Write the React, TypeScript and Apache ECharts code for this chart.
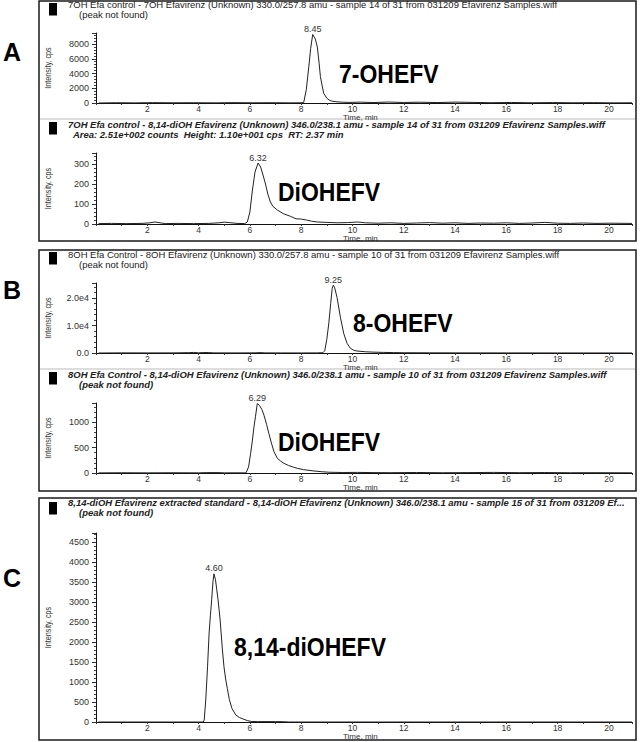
import React, { useEffect, useRef } from 'react';
import * as echarts from 'echarts';

// ---- Data (time in min, intensity in cps) ----
const traceA1: [number, number][] = [
  [0.1, 0], [0.8, 40], [1.5, 20], [2.2, 50], [3.0, 30], [3.8, 40], [4.6, 20], [5.3, 50], [6.1, 30],
  [6.9, 40], [7.6, 20], [8.0, 30], [8.1, 80], [8.2, 1800], [8.3, 5000], [8.37, 7400], [8.45, 9300],
  [8.55, 8700], [8.63, 7600], [8.7, 5400], [8.75, 3600], [8.82, 2300], [8.88, 1300], [9.0, 650],
  [9.1, 380], [9.2, 250], [9.4, 160], [9.6, 110], [9.9, 80], [10.3, 120], [10.8, 60], [11.4, 130],
  [12.0, 70], [12.6, 110], [13.3, 60], [14.0, 120], [14.7, 80], [15.4, 40], [16.2, 70], [17.0, 30],
  [17.8, 60], [18.6, 30], [19.4, 50], [20.2, 20], [20.9, 30],
];
const traceA2: [number, number][] = [
  [0.1, 2], [0.6, 3], [1.2, 2], [1.8, 3], [2.1, 6], [2.3, 10], [2.5, 6], [2.7, 2], [3.2, 3], [3.8, 2],
  [4.4, 3], [4.8, 6], [5.0, 9], [5.2, 7], [5.5, 3], [5.8, 2], [5.9, 10], [6.0, 60], [6.1, 170],
  [6.2, 260], [6.32, 305], [6.42, 285], [6.5, 250], [6.6, 205], [6.7, 150], [6.8, 110], [6.9, 88],
  [7.07, 70], [7.3, 52], [7.59, 38], [7.8, 26], [7.98, 25], [8.2, 20], [8.4, 14], [8.63, 10], [9.0, 8],
  [9.4, 6], [9.8, 7], [10.2, 10], [10.5, 6], [11.0, 4], [11.5, 6], [12.0, 3], [12.5, 5], [13.0, 7],
  [13.5, 4], [14.0, 6], [14.5, 3], [15.0, 5], [15.5, 4], [16.0, 6], [16.5, 3], [17.0, 5], [17.5, 8],
  [18.0, 4], [18.5, 3], [19.0, 5], [19.5, 3], [20.0, 4], [20.9, 3],
];
const traceB1: [number, number][] = [
  [0.1, 0], [1, 50], [2, 30], [3, 40], [3.6, 120], [3.8, 200], [4.0, 60], [4.2, 180], [4.4, 150],
  [4.6, 40], [5.5, 30], [6.2, 60], [6.4, 150], [6.6, 40], [7.2, 30], [8.0, 20], [8.6, 40], [8.85, 100],
  [8.92, 800], [9.0, 5000], [9.08, 11000], [9.15, 18000], [9.21, 23500], [9.25, 24700], [9.3, 24000],
  [9.4, 20200], [9.53, 13000], [9.66, 7100], [9.79, 3500], [9.92, 1700], [10.05, 1000], [10.18, 720],
  [10.5, 450], [10.8, 320], [11.2, 220], [11.6, 150], [12, 100], [13, 70], [14, 50], [15, 40],
  [16, 30], [17, 30], [18, 20], [19, 20], [20, 20], [20.9, 10],
];
const traceB2: [number, number][] = [
  [0.1, 2], [1, 5], [2, 3], [3, 5], [4, 3], [4.3, 8], [4.8, 8], [5, 3], [5.5, 4], [5.85, 2],
  [5.95, 120], [6.03, 390], [6.1, 650], [6.16, 910], [6.22, 1120], [6.29, 1370], [6.38, 1330],
  [6.47, 1250], [6.55, 1140], [6.65, 960], [6.74, 780], [6.84, 590], [6.94, 420], [7.07, 290],
  [7.2, 235], [7.33, 190], [7.5, 150], [7.7, 115], [7.85, 92], [8.1, 65], [8.5, 40], [8.8, 25],
  [9.1, 15], [9.6, 10], [10.2, 12], [10.8, 8], [11.5, 6], [12.5, 10], [13.5, 5], [14.5, 8],
  [15.5, 12], [16.5, 6], [17.5, 9], [18.5, 5], [19.5, 6], [20.9, 4],
];
const traceC: [number, number][] = [
  [0.1, 0], [2, 0], [4.0, 0], [4.18, 0], [4.22, 50], [4.28, 550], [4.35, 1380], [4.41, 2220],
  [4.46, 2650], [4.51, 3050], [4.56, 3500], [4.6, 3700], [4.66, 3550], [4.71, 3300], [4.76, 3050],
  [4.84, 2550], [4.93, 1800], [4.99, 1380], [5.06, 1050], [5.12, 840], [5.2, 560], [5.3, 340],
  [5.45, 175], [5.6, 110], [5.77, 67], [5.9, 35], [6.05, 15], [6.3, 10], [7.0, 10], [7.3, 8],
  [7.5, 0], [20.9, 0],
];

const peakTimes = [8.45, 6.32, 9.25, 6.29, 4.6];
const peakValues = [9300, 305, 24700, 1370, 3700];
const peakLabels = ['8.45', '6.32', '9.25', '6.29', '4.60'];

const yMax = [9500, 355, 25500, 1380, 4720];
const yInterval = [2000, 100, 10000, 500, 500];

const titleLines = [
  ['7OH Efa control - 7OH Efavirenz (Unknown) 330.0/257.8 amu - sample 14 of 31 from 031209 Efavirenz Samples.wiff', '(peak not found)'],
  ['7OH Efa control - 8,14-diOH Efavirenz (Unknown) 346.0/238.1 amu - sample 14 of 31 from 031209 Efavirenz Samples.wiff', 'Area: 2.51e+002 counts  Height: 1.10e+001 cps  RT: 2.37 min'],
  ['8OH Efa Control - 8OH Efavirenz (Unknown) 330.0/257.8 amu - sample 10 of 31 from 031209 Efavirenz Samples.wiff', '(peak not found)'],
  ['8OH Efa Control - 8,14-diOH Efavirenz (Unknown) 346.0/238.1 amu - sample 10 of 31 from 031209 Efavirenz Samples.wiff', '(peak not found)'],
  ['8,14-diOH Efavirenz extracted standard - 8,14-diOH Efavirenz (Unknown) 346.0/238.1 amu - sample 15 of 31 from 031209 Ef...', '(peak not found)'],
];
const compoundLabels = ['7-OHEFV', 'DiOHEFV', '8-OHEFV', 'DiOHEFV', '8,14-diOHEFV'];
const panelLetters = ['A', 'B', 'C'];

// ---- Layout ----
const GRID_LEFT = 96;
const GRID_WIDTH = 536;
const gridTops = [33, 153, 283, 403, 533];
const gridHeights = [70, 71, 70, 70, 189];
const titleY = [[5, 14.8], [124.8, 134.6], [255, 264.8], [374.8, 384.6], [503.5, 513.3]];
const titleX2 = [79, 73, 79, 79, 79];
const titleBold = [false, true, false, true, true];
const squareY = [3, 122, 252, 372, 502];
const bigLabelPos = [[339, 74], [278, 192], [353, 323], [278, 442], [234, 647]];
const letterPos = [[12, 52], [12, 290], [12, 578]];
const boxes = [[39, 1, 597, 240], [39, 250, 597, 241], [39, 498, 597, 242]];
const sepY = [119, 369];

const FONT = '"Liberation Sans", Arial, sans-serif';
const traces = [traceA1, traceA2, traceB1, traceB2, traceC];

function fmtY(i: number, v: number): string {
  const iv = yInterval[i];
  if (Math.abs(v % iv) > 1e-6) return '';
  if (i === 2) return v === 0 ? '0.0' : (v / 1e4).toFixed(1) + 'e4';
  return String(v);
}

function buildOption(): any {
  const grid = gridTops.map((t, i) => ({
    left: GRID_LEFT, top: t, width: GRID_WIDTH, height: gridHeights[i],
    containLabel: false, outerBoundsMode: 'none',
  }));
  const xAxis = gridTops.map((_, i) => ({
    type: 'value', gridIndex: i, min: 0, max: 20.9, interval: 1,
    axisLine: { show: true, onZero: false, lineStyle: { color: '#111', width: 1 } },
    axisTick: { show: true, length: 2, lineStyle: { color: '#333' } },
    splitLine: { show: false },
    axisLabel: {
      fontSize: 8.5, fontFamily: FONT, color: '#333', margin: 1,
      formatter: (v: number) => (v > 0 && Math.abs(v % 2) < 1e-6 ? String(v) : ''),
    },
  }));
  const yAxis = gridTops.map((_, i) => ({
    type: 'value', gridIndex: i, min: 0, max: yMax[i], interval: yInterval[i],
    axisLine: { show: true, lineStyle: { color: '#111', width: 1 } },
    axisTick: { show: true, length: 4, lineStyle: { color: '#333' } },
    minorTick: { show: true, splitNumber: 5, length: 2, lineStyle: { color: '#444' } },
    splitLine: { show: false },
    axisLabel: {
      fontSize: 9, fontFamily: FONT, color: '#333', margin: 7,
      formatter: (v: number) => fmtY(i, v),
    },
  }));
  const series = traces.map((d, i) => ({
    type: 'line', xAxisIndex: i, yAxisIndex: i, data: d,
    showSymbol: false, symbol: 'none',
    lineStyle: { color: '#222', width: 1 },
    markPoint: {
      symbol: 'circle', symbolSize: 0, silent: true,
      itemStyle: { color: 'transparent' },
      label: {
        show: true, position: 'top', distance: 1, fontSize: 9, fontFamily: FONT, color: '#333',
        formatter: peakLabels[i],
      },
      data: [{ coord: [peakTimes[i], peakValues[i]] }],
    },
  }));

  const graphic: any[] = [];
  boxes.forEach(([x, y, w, h]) => {
    graphic.push({ type: 'rect', shape: { x, y, width: w, height: h }, style: { fill: 'none', stroke: '#1a1a1a', lineWidth: 1.5 }, z: 10 });
  });
  sepY.forEach((y) => {
    graphic.push({ type: 'line', shape: { x1: 40, y1: y, x2: 635, y2: y }, style: { stroke: '#bbb', lineWidth: 1 } });
  });
  squareY.forEach((y) => {
    graphic.push({ type: 'rect', shape: { x: 49, y, width: 8, height: 12.5 }, style: { fill: '#000' } });
  });
  titleLines.forEach((lines, i) => {
    const bold = titleBold[i];
    lines.forEach((txt, j) => {
      graphic.push({
        type: 'text', x: j === 0 ? 68 : titleX2[i], y: titleY[i][j], scaleX: 1.03,
        style: {
          text: txt, fontSize: 9.2, fontFamily: FONT, fill: '#222',
          fontWeight: bold ? 'bold' : 'normal', fontStyle: bold ? 'italic' : 'normal',
          align: 'left', verticalAlign: 'middle',
        },
      });
    });
  });
  gridTops.forEach((t, i) => {
    const h = gridHeights[i];
    graphic.push({
      type: 'text', x: 48, y: t + h / 2, rotation: Math.PI / 2, scaleX: 0.8,
      style: { text: 'Intensity, cps', fontSize: 9, fontFamily: FONT, fill: '#333', align: 'center', verticalAlign: 'middle' },
    });
    graphic.push({
      type: 'text', x: 343, y: t + h + 14.5,
      style: { text: 'Time, min', fontSize: 8, fontFamily: FONT, fill: '#333', align: 'left', verticalAlign: 'middle' },
    });
    graphic.push({
      type: 'text', x: bigLabelPos[i][0], y: bigLabelPos[i][1], scaleY: 1.1,
      style: { text: compoundLabels[i], fontSize: 23, fontWeight: 'bold', fontFamily: FONT, fill: '#000', align: 'left', verticalAlign: 'middle' },
    });
  });
  panelLetters.forEach((l, i) => {
    graphic.push({
      type: 'text', x: letterPos[i][0], y: letterPos[i][1],
      style: { text: l, fontSize: 25, fontWeight: 'bold', fontFamily: FONT, fill: '#000', align: 'center', verticalAlign: 'middle' },
    });
  });

  return {
    animation: false,
    backgroundColor: '#fff',
    grid, xAxis, yAxis, series, graphic,
  };
}

export default function App() {
  const ref = useRef<HTMLDivElement>(null);
  useEffect(() => {
    if (!ref.current) return;
    const chart = echarts.init(ref.current, null, { renderer: 'svg' });
    chart.setOption(buildOption());
    return () => chart.dispose();
  }, []);
  return (
    <div
      ref={ref}
      style={{ position: 'absolute', left: 0, top: 0, width: 640, height: 742, background: '#fff' }}
    />
  );
}
